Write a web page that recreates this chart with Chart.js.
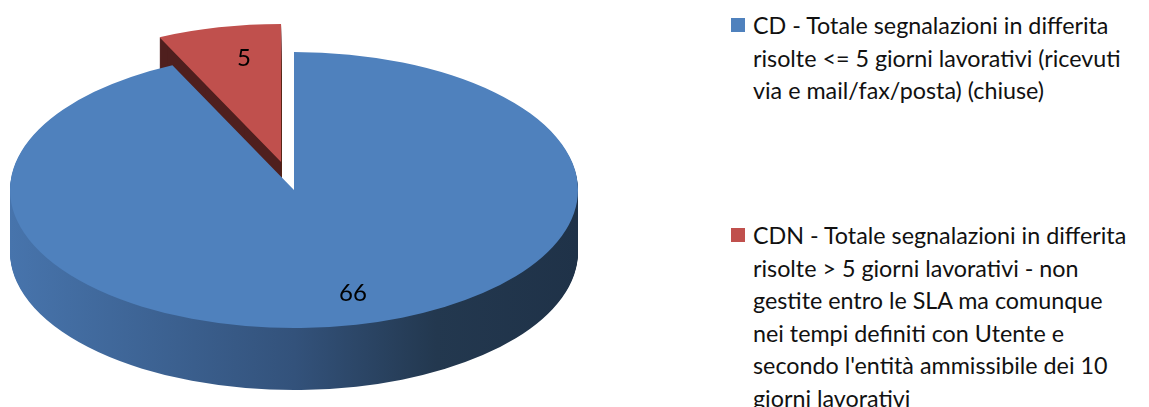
<!DOCTYPE html>
<html>
<head>
<meta charset="utf-8">
<script src="https://cdn.jsdelivr.net/npm/chart.js@4.4.0/dist/chart.umd.min.js"></script>
<style>
  html, body { margin: 0; padding: 0; width: 1149px; height: 407px; overflow: hidden; background: #fff; }
  #pieBox { position: absolute; left: 0; top: 0; width: 600px; height: 600px; }
  .legend-item { position: absolute; left: 731px; font-family: Lato, sans-serif; font-size: 23.3px; line-height: 32.5px; color: #111; }
  .legend-box { position: absolute; left: 0; width: 14px; height: 14px; }
  .legend-text { position: absolute; left: 22px; top: 0; white-space: nowrap; }
</style>
</head>
<body>
<div id="pieBox"><canvas id="pie"></canvas></div>
<div id="legend"></div>
<script>
// --- data ---
const categories = ['CD', 'CDN'];
const legendLines = [
  ['CD - Totale segnalazioni in differita',
   'risolte <= 5 giorni lavorativi (ricevuti',
   'via e mail/fax/posta) (chiuse)'],
  ['CDN - Totale segnalazioni in differita',
   'risolte > 5 giorni lavorativi - non',
   'gestite entro le SLA ma comunque',
   'nei tempi definiti con Utente e',
   "secondo l'entità ammissibile dei 10",
   'giorni lavorativi']
];
const values = [66, 5];
const sliceColors = ['#4F81BD', '#C0504D'];

// fake 3D: squash the pie vertically, stack darker copies below for the side wall
const pie3d = {
  id: 'pie3d',
  beforeDatasetsDraw(chart, args, o) {
    const ctx = chart.ctx;
    const meta = chart.getDatasetMeta(0);
    const area = chart.chartArea;
    const cy = (area.top + area.bottom) / 2;
    const shiftFor = (arc, i) => {
      const half = (arc.startAngle + arc.endAngle) / 2;
      const ex = o.explode[i] || 0;
      return [Math.cos(half) * ex, Math.sin(half) * ex];
    };

    ctx.save();
    ctx.translate(0, o.centerY);
    ctx.scale(1, o.tilt);
    ctx.translate(0, -cy);

    const first = meta.data[0];
    const sideGrad = ctx.createLinearGradient(first.x - first.outerRadius, 0, first.x + first.outerRadius, 0);
    o.sideStops.forEach(s => sideGrad.addColorStop(s[0], s[1]));
    const sides = [sideGrad, o.innerSide];

    meta.data.forEach((arc, i) => {
      const wall = Object.create(arc);
      wall.options = Object.assign({}, arc.options, { backgroundColor: sides[i] });
      const [sx, sy] = shiftFor(arc, i);
      for (let d = o.depth; d >= 1; d--) {
        ctx.save();
        ctx.translate(sx, sy + d / o.tilt);
        wall.draw(ctx);
        ctx.restore();
      }
    });
    meta.data.forEach((arc, i) => {
      const [sx, sy] = shiftFor(arc, i);
      ctx.save();
      ctx.translate(sx, sy);
      arc.draw(ctx);
      ctx.restore();
    });
    ctx.restore();

    // value labels
    ctx.save();
    ctx.font = o.labelFont;
    ctx.fillStyle = '#000';
    ctx.textAlign = 'center';
    ctx.textBaseline = 'middle';
    meta.data.forEach((arc, i) => {
      const [sx, sy] = shiftFor(arc, i);
      const half = (arc.startAngle + arc.endAngle) / 2;
      const r = arc.outerRadius * o.labelPos;
      const x = arc.x + sx + Math.cos(half) * r + o.labelNudgeX;
      const y = arc.y + sy + Math.sin(half) * r;
      ctx.fillText(String(chart.data.datasets[0].data[i]), x, o.centerY + (y - cy) * o.tilt);
    });
    ctx.restore();
    return false;
  }
};

new Chart(document.getElementById('pie'), {
  type: 'pie',
  data: {
    labels: categories,
    datasets: [{
      data: values,
      backgroundColor: sliceColors,
      borderWidth: 0,
      radius: 284,
      clip: false
    }]
  },
  options: {
    responsive: true,
    maintainAspectRatio: false,
    animation: false,
    layout: { padding: { right: 12 } },
    plugins: {
      legend: { display: false },
      tooltip: { enabled: false },
      pie3d: {
        centerY: 190,
        tilt: 0.486,
        depth: 62,
        explode: [0, 59],
        sideStops: [[0, '#4774ac'], [0.5, '#33527b'], [0.75, '#23384f'], [1, '#1f3248']],
        innerSide: '#4f1f1e',
        labelFont: '24px Lato',
        labelPos: 0.77,
        labelNudgeX: 11
      }
    }
  },
  plugins: [pie3d]
});

// legend on the right, built from the same arrays
const legendTops = [9, 219];
const legend = document.getElementById('legend');
categories.forEach((c, i) => {
  const item = document.createElement('div');
  item.className = 'legend-item';
  item.style.top = legendTops[i] + 'px';
  const box = document.createElement('div');
  box.className = 'legend-box';
  box.style.background = sliceColors[i];
  box.style.top = '9px';
  const txt = document.createElement('div');
  txt.className = 'legend-text';
  legendLines[i].forEach((line, j) => {
    if (j) txt.appendChild(document.createElement('br'));
    txt.appendChild(document.createTextNode(line));
  });
  item.appendChild(box);
  item.appendChild(txt);
  legend.appendChild(item);
});
</script>
</body>
</html>
